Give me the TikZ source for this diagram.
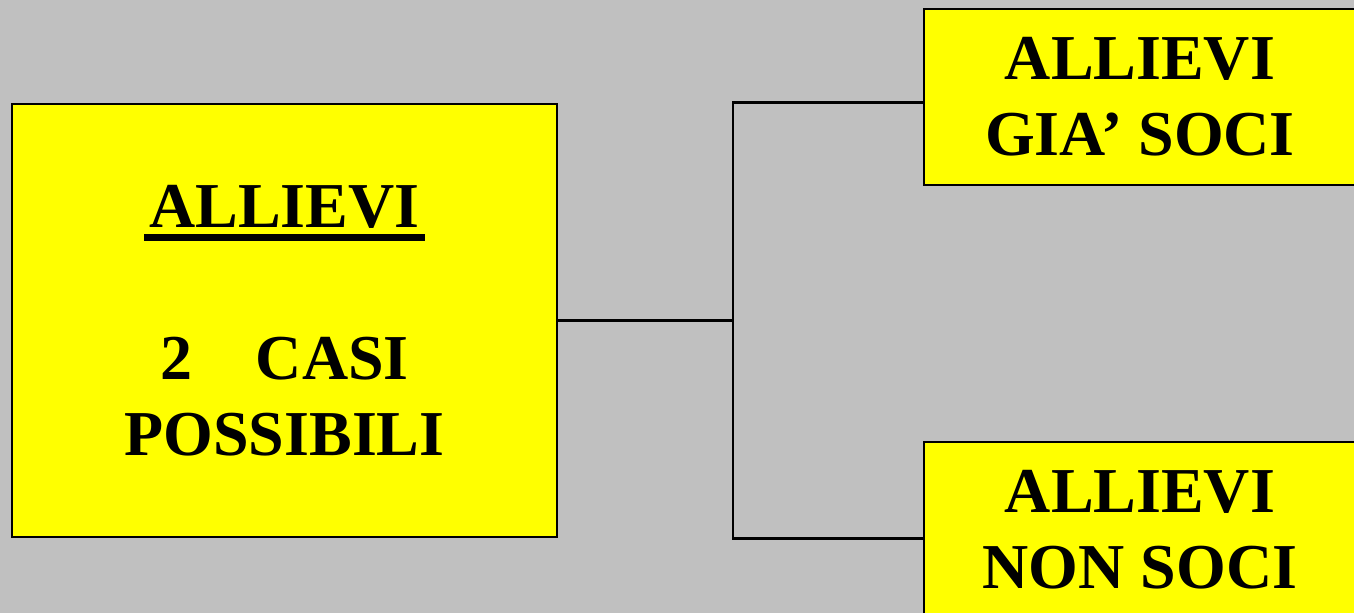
\documentclass[tikz,border=0pt]{standalone}
\usepackage{fontspec}
\setmainfont{Liberation Serif}
\usetikzlibrary{positioning}

\definecolor{bggray}{RGB}{192,192,192}
\definecolor{boxyellow}{RGB}{255,255,0}
% thick underline as in the slide
\newcommand{\thickul}[1]{\setbox0\hbox{#1}\rlap{\kern-0.05cm\vrule width\dimexpr\wd0+0.1cm\relax height -0.07cm depth 0.14cm}\box0}

\begin{document}
\begin{tikzpicture}[
  font=\fontsize{18.2pt}{21.6pt}\selectfont\bfseries,
  mainbox/.style={draw, line width=0.75pt, fill=boxyellow, align=center,
    minimum width=5.45cm, minimum height=4.33cm, inner sep=0pt},
  casebox/.style={draw, line width=0.75pt, fill=boxyellow, align=center,
    minimum width=4.32cm, minimum height=1.76cm, inner sep=0pt},
  link/.style={line width=0.7pt}
]
\useasboundingbox (0,0) rectangle (13.54,6.13);
\fill[bggray] (0,0) rectangle (13.54,6.13);

\node[mainbox] (allievi) at (2.845,2.925)
  {\thickul{ALLIEVI}\\[\baselineskip]2\quad CASI\\POSSIBILI};
\node[casebox] (soci) at (11.40,5.16) {ALLIEVI\\GIA’ SOCI};
\node[casebox] (nonsoci) at (11.40,0.83) {ALLIEVI\\NON SOCI};

\coordinate (fork) at (7.33,2.925);
\draw[link] (allievi) -- (fork);
\draw[link] (soci.west |- allievi.north) -| (fork)
  |- (nonsoci.west |- allievi.south);
\end{tikzpicture}
\end{document}
